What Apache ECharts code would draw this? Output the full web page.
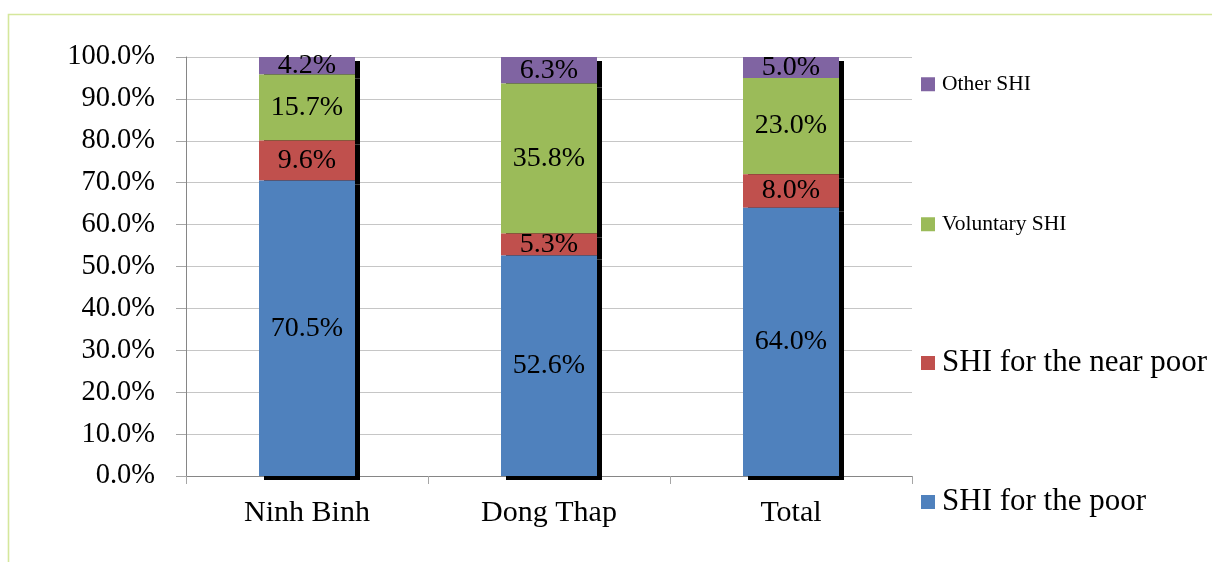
<!DOCTYPE html>
<html>
<head>
<meta charset="utf-8">
<title>SHI participation by province</title>
<script src="https://cdn.jsdelivr.net/npm/echarts@6/dist/echarts.min.js"></script>
<style>
  html, body { margin: 0; padding: 0; background: #ffffff; }
  #chart { width: 1212px; height: 562px; }
</style>
</head>
<body>
<div id="chart"></div>
<script>
// Share of SHI participants by scheme (%), per province
const categories = ['Ninh Binh', 'Dong Thap', 'Total'];
const seriesNames = ['SHI for the poor', 'SHI for the near poor', 'Voluntary SHI', 'Other SHI'];
const shiPoor = [70.5, 52.6, 64.0];
const shiNearPoor = [9.6, 5.3, 8.0];
const voluntaryShi = [15.7, 35.8, 23.0];
const otherShi = [4.2, 6.3, 5.0];
const yTicks = { min: 0, max: 100, interval: 10 };

const FONT = "'Liberation Serif', 'Times New Roman', serif";
const colors = ['#4f81bd', '#c0504d', '#9bbb59', '#8064a2'];
const values = [shiPoor, shiNearPoor, voluntaryShi, otherShi];

const chart = echarts.init(document.getElementById('chart'), null, { renderer: 'canvas' });

// stacked segments; lower segments drawn on top so only the outer drop shadow shows
const series = seriesNames.map((name, i) => ({
  name: name,
  type: 'bar',
  stack: 'total',
  barWidth: 96,
  z: 10 - i,
  data: values[i],
  itemStyle: {
    color: colors[i],
    borderWidth: 0,
    shadowColor: '#000000',
    shadowBlur: 0,
    shadowOffsetX: 5,
    shadowOffsetY: 4
  },
  label: {
    show: true,
    position: 'inside',
    color: '#000000',
    fontFamily: FONT,
    fontSize: 28,
    formatter: p => p.value.toFixed(1) + '%'
  },
  emphasis: { disabled: true }
}));

// legend entries listed top to bottom, each with its own text size
const legendSpec = [
  { name: 'Other SHI', cy: 84, size: 21.5 },
  { name: 'Voluntary SHI', cy: 224, size: 21.5 },
  { name: 'SHI for the near poor', cy: 363, size: 31 },
  { name: 'SHI for the poor', cy: 502, size: 31 }
];
const legends = legendSpec.map(l => ({
  data: [l.name],
  left: 921,
  top: l.cy - l.size / 2,
  orient: 'vertical',
  padding: 0,
  icon: 'rect',
  itemWidth: 14,
  itemHeight: 14,
  itemGap: 0,
  selectedMode: false,
  itemStyle: { borderWidth: 0, shadowBlur: 0, shadowOffsetX: 0, shadowOffsetY: 0, shadowColor: 'transparent' },
  textStyle: {
    fontFamily: FONT,
    fontSize: l.size,
    lineHeight: l.size,
    color: '#000000',
    padding: [0, 0, 0, 2]
  }
}));

chart.setOption({
  animation: false,
  backgroundColor: '#ffffff',
  color: colors,
  graphic: [{
    type: 'rect',
    silent: true,
    shape: { x: 8.5, y: 14.5, width: 1400, height: 700 },
    style: { fill: 'none', stroke: '#d5e79c', lineWidth: 1.6 }
  }],
  legend: legends,
  grid: { left: 186, right: 300, top: 57, bottom: 86, containLabel: false },
  xAxis: {
    type: 'category',
    data: categories,
    axisLine: { lineStyle: { color: '#868686', width: 1 } },
    axisTick: { show: true, length: 8, lineStyle: { color: '#a6a6a6' } },
    axisLabel: { color: '#000000', fontFamily: FONT, fontSize: 30, margin: 22 },
    splitLine: { show: false }
  },
  yAxis: {
    type: 'value',
    min: yTicks.min,
    max: yTicks.max,
    interval: yTicks.interval,
    axisLine: { show: true, lineStyle: { color: '#868686', width: 1 } },
    axisTick: { show: true, length: 10, lineStyle: { color: '#a6a6a6' } },
    axisLabel: {
      color: '#000000',
      fontFamily: FONT,
      fontSize: 28.5,
      margin: 31,
      padding: [3, 0, 0, 0],
      formatter: v => v.toFixed(1) + '%'
    },
    splitLine: { show: true, lineStyle: { color: '#c6c6c6', width: 1 } }
  },
  series: series
});
</script>
</body>
</html>
